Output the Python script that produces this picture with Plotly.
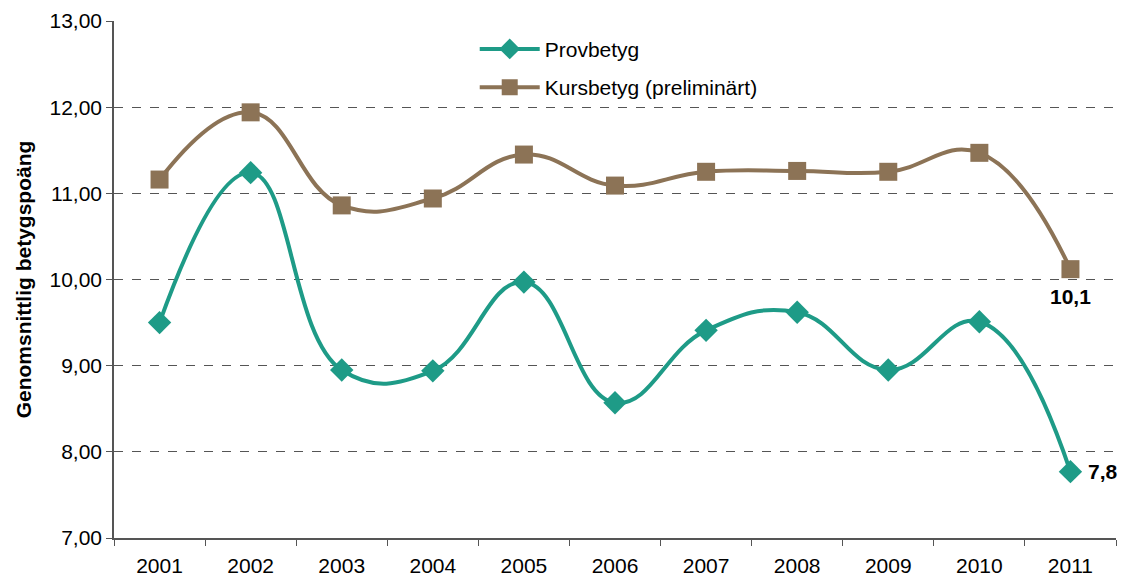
import plotly.graph_objects as go

years = ["2001", "2002", "2003", "2004", "2005", "2006", "2007", "2008", "2009", "2010", "2011"]
provbetyg = [9.50, 11.24, 8.95, 8.94, 9.97, 8.57, 9.41, 9.62, 8.95, 9.51, 7.77]
kursbetyg = [11.16, 11.94, 10.86, 10.94, 11.45, 11.09, 11.25, 11.26, 11.25, 11.47, 10.12]
end_labels = ["7,8", "10,1"]

teal = "#1E9B87"
brown = "#8C7356"
font = "Liberation Sans, Arial, sans-serif"
last = len(years) - 1

fig = go.Figure()
fig.add_trace(go.Scatter(
    x=years, y=provbetyg, name="Provbetyg", mode="lines+markers", legendgroup="a",
    line=dict(color=teal, width=4, shape="spline", smoothing=1.25),
    marker=dict(symbol="diamond", size=18, color=teal),
))
fig.add_trace(go.Scatter(
    x=years, y=kursbetyg, name="Kursbetyg (preliminärt)", mode="lines+markers", legendgroup="b",
    line=dict(color=brown, width=4, shape="spline", smoothing=1.25),
    marker=dict(symbol="square", size=18, color=brown),
))

fig.add_annotation(x=last, y=provbetyg[-1], xref="x", yref="y", text="<b>" + end_labels[0] + "</b>",
                   showarrow=False, xanchor="left", xshift=16, font=dict(size=21, color="black", family=font))
fig.add_annotation(x=last, y=kursbetyg[-1], xref="x", yref="y", text="<b>" + end_labels[1] + "</b>",
                   showarrow=False, xanchor="center", yshift=-27, xshift=0, font=dict(size=21, color="black", family=font))

fig.update_layout(
    width=1127, height=579,
    margin=dict(l=106, r=19, t=13, b=49),
    paper_bgcolor="white", plot_bgcolor="white",
    separators=", ",
    font=dict(family=font, size=21, color="black"),
    showlegend=True,
    legend=dict(x=0.36, y=0.985, xanchor="left", yanchor="top", bgcolor="rgba(0,0,0,0)",
                font=dict(size=21), itemwidth=60, tracegroupgap=8),
    xaxis=dict(type="category", showline=True, linecolor="#555", linewidth=1.5,
               ticks="outside", tickson="boundaries", ticklen=6, tickcolor="#555",
               showgrid=False, tickfont=dict(size=21), range=[-0.5, 10.5],
               automargin=False, ticklabelstandoff=8),
    yaxis=dict(range=[7, 13], dtick=1, tickformat=".2f", showline=True, linecolor="#555", linewidth=1.5,
               ticks="outside", ticklen=6, tickcolor="#555",
               showgrid=True, gridcolor="#555", griddash="dash", gridwidth=1,
               tickfont=dict(size=21), zeroline=False, automargin=False,
               title=dict(text="<b>Genomsnittlig betygspoäng</b>", font=dict(size=21), standoff=12)),
)

fig.write_html("out.html")
